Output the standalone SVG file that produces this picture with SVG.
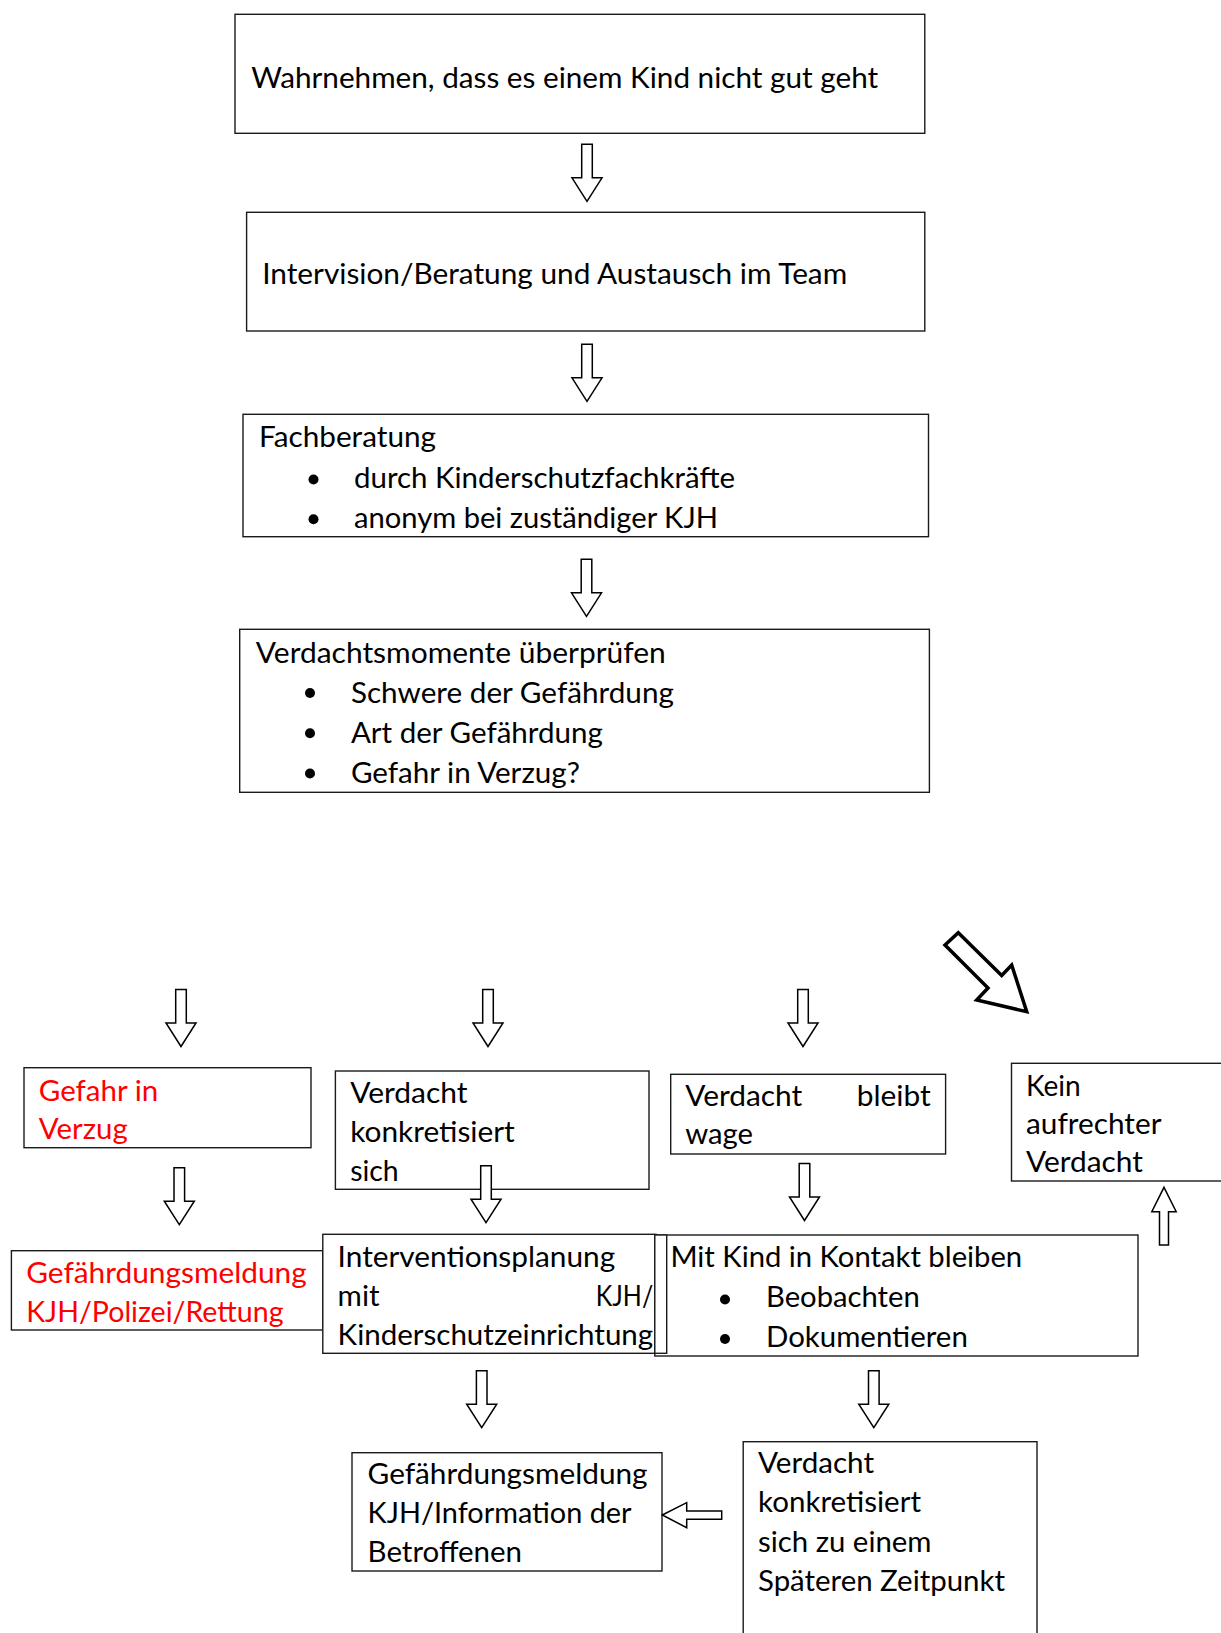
<svg xmlns="http://www.w3.org/2000/svg" xmlns:xlink="http://www.w3.org/1999/xlink" width="1221" height="1633" viewBox="0 0 1221 1633">
<style>
rect.box{fill:#fff;stroke:#1a1a1a;stroke-width:1.4}
text{font-family:Lato,"Liberation Sans",sans-serif;font-size:28px;fill:#000}
text.red{fill:#ff0000}
.arr{fill:#fff;stroke:#000;stroke-width:1.5;stroke-linejoin:miter}
.bul{fill:#000}
</style>
<defs>
<path id="dn" d="M-5.3,0 L5.3,0 L5.3,33.5 L15,33.5 L0,57 L-15,33.5 L-5.3,33.5 Z"/>
</defs>
<rect width="1221" height="1633" fill="#fff"/>

<g id="n1">
<rect class="box" x="235" y="14.3" width="689.8" height="119"/>
<text x="251.2" y="88" textLength="627" lengthAdjust="spacingAndGlyphs">Wahrnehmen, dass es einem Kind nicht gut geht</text>
</g>
<g id="n2">
<rect class="box" x="246.6" y="212.3" width="678.2" height="118.7"/>
<text x="262.2" y="284.3" textLength="585" lengthAdjust="spacingAndGlyphs">Intervision/Beratung und Austausch im Team</text>
</g>
<g id="n3">
<rect class="box" x="243" y="414.3" width="685.5" height="122.4"/>
<text x="259" y="447" textLength="177" lengthAdjust="spacingAndGlyphs">Fachberatung</text>
<circle class="bul" cx="313.5" cy="479.5" r="5"/>
<text x="354" y="487.7" textLength="381" lengthAdjust="spacingAndGlyphs">durch Kinderschutzfachkräfte</text>
<circle class="bul" cx="313.5" cy="519.3" r="5"/>
<text x="354" y="527.7" textLength="364" lengthAdjust="spacingAndGlyphs">anonym bei zuständiger KJH</text>
</g>
<g id="n4">
<rect class="box" x="239.7" y="629.3" width="689.7" height="163"/>
<text x="255.8" y="662.7" textLength="410" lengthAdjust="spacingAndGlyphs">Verdachtsmomente überprüfen</text>
<circle class="bul" cx="310" cy="693" r="5"/>
<text x="350.9" y="702.7" textLength="323" lengthAdjust="spacingAndGlyphs">Schwere der Gefährdung</text>
<circle class="bul" cx="310" cy="733.3" r="5"/>
<text x="350.9" y="742.7" textLength="252" lengthAdjust="spacingAndGlyphs">Art der Gefährdung</text>
<circle class="bul" cx="310" cy="773.5" r="5"/>
<text x="350.9" y="782.7" textLength="229" lengthAdjust="spacingAndGlyphs">Gefahr in Verzug?</text>
</g>

<g id="n5">
<rect class="box" x="24" y="1067.7" width="287" height="80"/>
<text class="red" x="38.8" y="1100.5" textLength="119.4" lengthAdjust="spacingAndGlyphs">Gefahr in</text>
<text class="red" x="38.8" y="1139" textLength="89" lengthAdjust="spacingAndGlyphs">Verzug</text>
</g>
<g id="n6">
<rect class="box" x="335.4" y="1071" width="313.6" height="118.3"/>
<text x="350.2" y="1103.2" textLength="117.3" lengthAdjust="spacingAndGlyphs">Verdacht</text>
<text x="350.2" y="1142.2" textLength="164.6" lengthAdjust="spacingAndGlyphs">konkretisiert</text>
<text x="350.2" y="1180.5" textLength="48.5" lengthAdjust="spacingAndGlyphs">sich</text>
</g>
<g id="n7">
<rect class="box" x="670.7" y="1074.3" width="274.9" height="79.7"/>
<text x="685.2" y="1105.5" textLength="117" lengthAdjust="spacingAndGlyphs">Verdacht</text>
<text x="856.7" y="1105.5" textLength="74" lengthAdjust="spacingAndGlyphs">bleibt</text>
<text x="685.2" y="1144" textLength="67.8" lengthAdjust="spacingAndGlyphs">wage</text>
</g>
<g id="n8">
<rect class="box" x="1011.5" y="1063.3" width="230" height="117.7"/>
<text x="1026" y="1095.5" textLength="54.8" lengthAdjust="spacingAndGlyphs">Kein</text>
<text x="1026" y="1134" textLength="135.5" lengthAdjust="spacingAndGlyphs">aufrechter</text>
<text x="1026" y="1172.2" textLength="117" lengthAdjust="spacingAndGlyphs">Verdacht</text>
</g>
<g id="n9">
<rect class="box" x="11.4" y="1250.7" width="311.4" height="79.3"/>
<text class="red" x="26.2" y="1283.2" textLength="280.6" lengthAdjust="spacingAndGlyphs">Gefährdungsmeldung</text>
<text class="red" x="26.2" y="1321.5" textLength="257.3" lengthAdjust="spacingAndGlyphs">KJH/Polizei/Rettung</text>
</g>
<g id="n10">
<rect class="box" x="322.8" y="1234.3" width="333.2" height="119"/>
<text x="337.6" y="1267.2" textLength="277.6" lengthAdjust="spacingAndGlyphs">Interventionsplanung</text>
<text x="337.6" y="1305.5" textLength="42" lengthAdjust="spacingAndGlyphs">mit</text>
<text x="595.8" y="1305.5" textLength="57.4" lengthAdjust="spacingAndGlyphs">KJH/</text>
<text x="337.6" y="1344.5" textLength="315.6" lengthAdjust="spacingAndGlyphs">Kinderschutzeinrichtung</text>
</g>
<g id="n11">
<rect class="box" x="654.8" y="1235" width="483.2" height="121"/>
<rect class="box" x="654.8" y="1235" width="11.9" height="118.3"/>
<text x="670.4" y="1267.2" textLength="351.8" lengthAdjust="spacingAndGlyphs">Mit Kind in Kontakt bleiben</text>
<circle class="bul" cx="725" cy="1299.5" r="5"/>
<text x="766" y="1307.2" textLength="153.7" lengthAdjust="spacingAndGlyphs">Beobachten</text>
<circle class="bul" cx="725" cy="1339" r="5"/>
<text x="766" y="1347.2" textLength="201.8" lengthAdjust="spacingAndGlyphs">Dokumentieren</text>
</g>
<g id="n12">
<rect class="box" x="352" y="1452.7" width="310" height="118.3"/>
<text x="367.6" y="1484" textLength="280" lengthAdjust="spacingAndGlyphs">Gefährdungsmeldung</text>
<text x="367.6" y="1523.4" textLength="264" lengthAdjust="spacingAndGlyphs">KJH/Information der</text>
<text x="367.6" y="1562.4" textLength="154.4" lengthAdjust="spacingAndGlyphs">Betroffenen</text>
</g>
<g id="n13">
<rect class="box" x="743.2" y="1441.7" width="293.8" height="210"/>
<text x="758" y="1473.4" textLength="116" lengthAdjust="spacingAndGlyphs">Verdacht</text>
<text x="758" y="1512.4" textLength="163" lengthAdjust="spacingAndGlyphs">konkretisiert</text>
<text x="758" y="1551.7" textLength="173.5" lengthAdjust="spacingAndGlyphs">sich zu einem</text>
<text x="758" y="1590.7" textLength="247" lengthAdjust="spacingAndGlyphs">Späteren Zeitpunkt</text>
</g>

<g id="connectors">
<use href="#dn" xlink:href="#dn" class="arr" transform="translate(587,144.3)"/>
<use href="#dn" xlink:href="#dn" class="arr" transform="translate(587,344.3)"/>
<use href="#dn" xlink:href="#dn" class="arr" transform="translate(586.5,559.3)"/>
<use href="#dn" xlink:href="#dn" class="arr" transform="translate(181,989.5)"/>
<use href="#dn" xlink:href="#dn" class="arr" transform="translate(488,989.5)"/>
<use href="#dn" xlink:href="#dn" class="arr" transform="translate(803,989.5)"/>
<use href="#dn" xlink:href="#dn" class="arr" transform="translate(179.3,1167.7)"/>
<use href="#dn" xlink:href="#dn" class="arr" transform="translate(486,1165.7)"/>
<use href="#dn" xlink:href="#dn" class="arr" transform="translate(804.5,1163.5)"/>
<use href="#dn" xlink:href="#dn" class="arr" transform="translate(481.7,1370.7)"/>
<use href="#dn" xlink:href="#dn" class="arr" transform="translate(873.8,1370.7)"/>
<path class="arr" d="M1164,1187.3 L1176.2,1211.7 L1168.5,1211.7 L1168.5,1245 L1159.5,1245 L1159.5,1211.7 L1151.8,1211.7 Z"/>
<path class="arr" d="M662.3,1515 L686.7,1502.7 L686.7,1511 L721.7,1511 L721.7,1519.3 L686.7,1519.3 L686.7,1527.7 Z"/>
<path class="arr" style="stroke-width:3.5" d="M958.3,932.7 L1001.7,975.5 L1011.7,965 L1026.7,1011.7 L976.7,1000 L988,988 L945,945 Z"/>
</g>
</svg>
